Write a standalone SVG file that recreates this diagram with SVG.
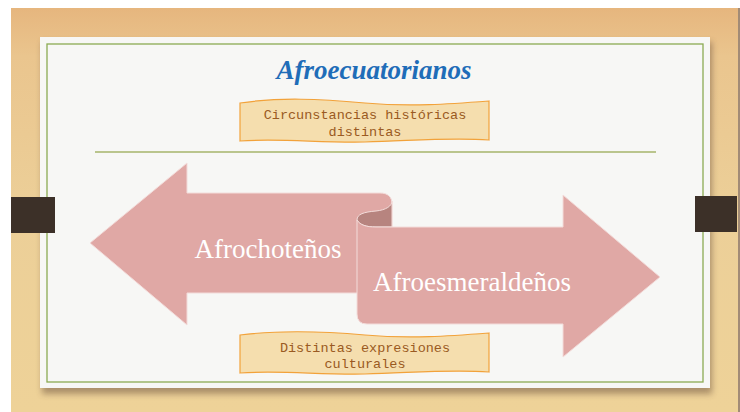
<svg xmlns="http://www.w3.org/2000/svg" width="740" height="412" viewBox="0 0 740 412">
  <defs>
    <linearGradient id="wood" x1="0" y1="0" x2="0" y2="1">
      <stop offset="0" stop-color="#e6b67e"/>
      <stop offset="0.12" stop-color="#eac58e"/>
      <stop offset="0.5" stop-color="#eccf98"/>
      <stop offset="1" stop-color="#eed298"/>
    </linearGradient>
    <filter id="sh" x="-5%" y="-5%" width="110%" height="115%">
      <feGaussianBlur stdDeviation="3"/>
    </filter>
    <style>
      .banner { fill: #f5deae; stroke: #f2a23a; stroke-width: 1.2; }
      .btxt { font-family: "Liberation Mono", "DejaVu Sans Mono", monospace; font-size: 13.5px; fill: #9a5a22; text-anchor: middle; }
      .atxt { font-family: "Liberation Serif", "DejaVu Serif", serif; font-size: 27px; fill: #ffffff; text-anchor: middle; }
      .arrow { fill: #e0a8a5; stroke: #f3dcda; stroke-width: 1; }
      .green { fill: none; stroke: #8cab52; stroke-width: 1.3; }
      .tab { fill: #3c3028; }
    </style>
  </defs>

  <g id="background">
    <rect x="0" y="0" width="740" height="412" fill="#ffffff"/>
    <rect x="11" y="8" width="727" height="404" fill="url(#wood)"/>
    <rect x="738" y="8" width="2" height="404" fill="#7a5a3c" opacity="0.7"/>
    <rect x="42" y="42" width="670" height="352" fill="#5a4030" opacity="0.45" filter="url(#sh)"/>
    <rect x="40" y="37" width="670" height="351" fill="#f7f7f5"/>
    <rect x="47" y="44" width="656" height="338" class="green"/>
    <rect x="11" y="197" width="44" height="36" class="tab"/>
    <rect x="695" y="196" width="42" height="36" class="tab"/>
    <line x1="95" y1="152" x2="656" y2="152" stroke="#a6b46a" stroke-width="1.3"/>
  </g>

  <g id="title">
    <text x="374" y="79" font-family="'Liberation Serif', 'DejaVu Serif', serif" font-style="italic" font-weight="bold" font-size="27" fill="#1f6db8" text-anchor="middle">Afroecuatorianos</text>
  </g>

  <g id="connectors"></g>

  <g id="banner-top">
    <path class="banner" d="M240,103 C280,97 320,99 365,103 C410,107 450,104 489,101 L489,140 C450,137 410,141 365,142 C320,143 280,138 240,141 Z"/>
    <text class="btxt" x="365" y="119">Circunstancias históricas</text>
    <text class="btxt" x="365" y="136">distintas</text>
  </g>

  <g id="afrochotenos">
    <path class="arrow" d="M90,243 L187,163 L187,193 L380,193 C388,193 392,197 392,204 L392,293 L187,293 L187,325 Z"/>
    <text class="atxt" x="268" y="258">Afrochoteños</text>
  </g>

  <g id="afroesmeraldenos">
    <path d="M357,220 C357,214 364,212 376,211 C386,210 392,206 392,201 L392,227 L376,227 C366,227 360,225 357,220 Z" fill="#b7847f" stroke="#f3dcda" stroke-width="1"/>
    <path class="arrow" d="M357,220 C360,225 366,227 376,227 L563,227 L563,195 L660,277 L563,357 L563,324 L367,324 Q357,324 357,314 Z"/>
    <text class="atxt" x="472" y="291">Afroesmeraldeños</text>
  </g>

  <g id="banner-bottom">
    <path class="banner" d="M240,335 C280,330 320,331 365,335 C410,339 450,336 489,333 L489,372 C450,369 410,373 365,374 C320,375 280,370 240,373 Z"/>
    <text class="btxt" x="365" y="352">Distintas expresiones</text>
    <text class="btxt" x="365" y="368">culturales</text>
  </g>
</svg>
